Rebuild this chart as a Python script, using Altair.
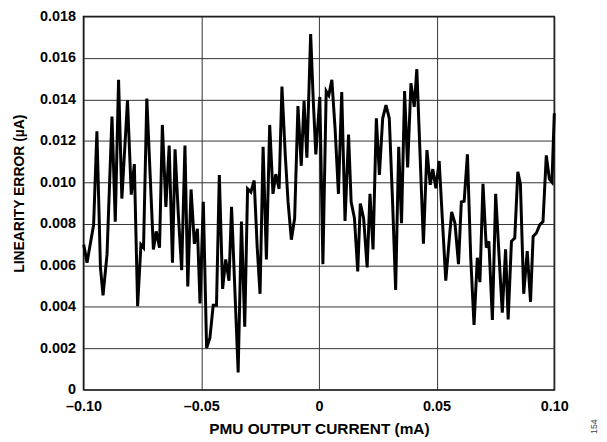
import altair as alt
import pandas as pd

current_ma = [
    -0.0999, -0.0985, -0.0957, -0.0943, -0.0928, -0.0917, -0.0900, -0.0879, -0.0865, -0.0851,
    -0.0837, -0.0813, -0.0797, -0.0784, -0.0770, -0.0756, -0.0745, -0.0731, -0.0703, -0.0691,
    -0.0677, -0.0665, -0.0650, -0.0636, -0.0622, -0.0611, -0.0597, -0.0583, -0.0569, -0.0557,
    -0.0543, -0.0529, -0.0516, -0.0505, -0.0491, -0.0477,
    -0.0463, -0.0449, -0.0435, -0.0423, -0.0409, -0.0396, -0.0382, -0.0371, -0.0343, -0.0329,
    -0.0315, -0.0303, -0.0289, -0.0275, -0.0262, -0.0250, -0.0237, -0.0223, -0.0209, -0.0195,
    -0.0183, -0.0169, -0.0157, -0.0143, -0.0131, -0.0117, -0.0103, -0.0089, -0.0075, -0.0063,
    -0.0051, -0.0035, -0.0024, -0.0013, 0.0004, 0.0017, 0.0031,
    0.0042, 0.0055, 0.0069, 0.0083, 0.0097, 0.0111, 0.0126, 0.0137, 0.0151, 0.0165,
    0.0176, 0.0190, 0.0205, 0.0217, 0.0230, 0.0244, 0.0257, 0.0271, 0.0285, 0.0299,
    0.0313, 0.0326, 0.0339, 0.0351, 0.0364, 0.0377, 0.0391, 0.0405, 0.0416, 0.0430,
    0.0444, 0.0459, 0.0473, 0.0484, 0.0497, 0.0511,
    0.0525, 0.0539, 0.0553, 0.0564, 0.0578, 0.0593, 0.0605, 0.0617, 0.0631, 0.0645,
    0.0659, 0.0673, 0.0684, 0.0697, 0.0711, 0.0722, 0.0737, 0.0751, 0.0765, 0.0779,
    0.0793, 0.0804, 0.0818, 0.0832, 0.0845, 0.0856, 0.0870, 0.0885, 0.0899, 0.0910,
    0.0924, 0.0938, 0.0952, 0.0966, 0.0979, 0.0990, 0.1000,
]

linearity_error_ua = [
    0.00700, 0.00613, 0.00795, 0.01246, 0.00590, 0.00455, 0.00653, 0.01317, 0.00811, 0.01494,
    0.00922, 0.01396, 0.00941, 0.01088, 0.00403, 0.00700, 0.00685, 0.01404, 0.00677, 0.00764,
    0.00685, 0.01277, 0.00882, 0.01178, 0.00613, 0.01159, 0.00843, 0.00577, 0.01178, 0.00498,
    0.00966, 0.00704, 0.00776, 0.00416, 0.00906, 0.00202,
    0.00250, 0.00408, 0.00408, 0.01036, 0.00487, 0.00629, 0.00526, 0.00882, 0.00084, 0.00811,
    0.00305, 0.00969, 0.00953, 0.01009, 0.00685, 0.00463, 0.01172, 0.00629, 0.01277, 0.00945,
    0.01040, 0.00969, 0.01462, 0.01135, 0.00906, 0.00724, 0.00827, 0.01368, 0.01080, 0.01393,
    0.01119, 0.01715, 0.01396, 0.01135, 0.01412, 0.00606, 0.01440,
    0.01420, 0.01494, 0.01254, 0.00945, 0.01436, 0.00814, 0.01230, 0.00906, 0.00827, 0.00571,
    0.00898, 0.00827, 0.00590, 0.00945, 0.00677, 0.01309, 0.01036, 0.01309, 0.01372, 0.01309,
    0.00906, 0.00482, 0.01172, 0.00803, 0.01440, 0.01072, 0.01478, 0.01364, 0.01546, 0.01127,
    0.00704, 0.01156, 0.00988, 0.01064, 0.00972, 0.01103,
    0.00811, 0.00526, 0.00716, 0.00858, 0.00803, 0.00606, 0.00906, 0.00909, 0.01135, 0.00637,
    0.00313, 0.00637, 0.00519, 0.00993, 0.00685, 0.00716, 0.00337, 0.00945, 0.00653, 0.00372,
    0.00677, 0.00340, 0.00716, 0.00732, 0.01051, 0.00993, 0.00463, 0.00669, 0.00424, 0.00740,
    0.00756, 0.00795, 0.00811, 0.01130, 0.01017, 0.01001, 0.01333,
]

x_ticks = [-0.10, -0.05, 0.0, 0.05, 0.10]
y_ticks = [0, 0.002, 0.004, 0.006, 0.008, 0.010, 0.012, 0.014, 0.016, 0.018]

df = pd.DataFrame({"x": current_ma, "y": linearity_error_ua})

FONT = "Liberation Sans"

x_enc = alt.X(
    "x:Q",
    scale=alt.Scale(domain=[-0.1, 0.1], nice=False, zero=False),
    axis=alt.Axis(
        values=x_ticks,
        title="PMU OUTPUT CURRENT (mA)",
        labelExpr="datum.value == 0 ? '0' : (datum.value < 0 ? '\u2013' : '') + format(abs(datum.value), '.2f')",
        grid=True,
        ticks=False,
        domain=False,
        labelPadding=10,
        labelFlush=False,
        labelOverlap=False,
        labelBound=False,
        titleFontSize=15.5,
        titleBaseline="middle",
        titleY=39,
    ),
)
y_enc = alt.Y(
    "y:Q",
    scale=alt.Scale(domain=[0, 0.018], nice=False),
    axis=alt.Axis(
        values=y_ticks,
        title="LINEARITY ERROR (\u00b5A)",
        labelExpr="datum.value == 0 ? '0' : format(datum.value, '.3f')",
        grid=True,
        ticks=False,
        domain=False,
        labelPadding=8,
        labelFlush=False,
        labelOverlap=False,
        labelBound=False,
        titleFontSize=14,
        titleBaseline="middle",
        titleX=-64,
        titleY=178,
    ),
)

line = alt.Chart(df).mark_line(color="black", strokeWidth=3, strokeJoin="miter", strokeMiterLimit=4).encode(
    x=x_enc, y=y_enc
)

note = alt.Chart(pd.DataFrame({"t": ["154"]})).mark_text(
    angle=270, fontSize=9, color="#444", font=FONT, align="center", baseline="middle"
).encode(x=alt.value(514), y=alt.value(413), text="t:N")

chart = (
    alt.layer(line, note)
    .properties(
        width=474,
        height=376,
        autosize=alt.AutoSizeParams(type="none"),
        padding={"left": 76, "top": 7, "right": 45, "bottom": 49},
    )
    .configure_view(stroke="black", strokeWidth=1.5)
    .configure_axis(
        labelFont=FONT,
        titleFont=FONT,
        labelFontSize=14.5,
        labelFontWeight="bold",
        titleFontWeight="bold",
        labelColor="black",
        titleColor="black",
        gridColor="#333333",
        gridWidth=1,
        gridOpacity=1,
    )
)

chart.save("out.html", embed_options={"renderer": "svg", "actions": False})
